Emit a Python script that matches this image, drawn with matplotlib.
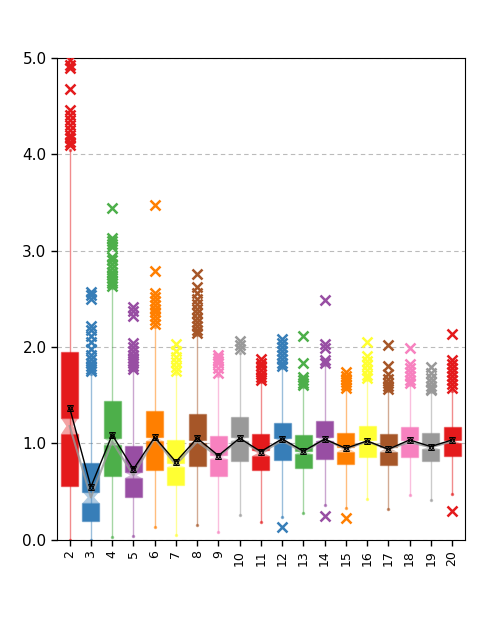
import numpy as np
import matplotlib
matplotlib.use("Agg")
import matplotlib.pyplot as plt
from matplotlib.colors import to_rgba

cats = [str(c) for c in range(2, 21)]
set1 = ["#e41a1c", "#377eb8", "#4daf4a", "#984ea3", "#ff7f00",
        "#ffff33", "#a65628", "#f781bf", "#999999"]

q1 = [0.56, 0.20, 0.66, 0.45, 0.73, 0.57, 0.77, 0.66, 0.82, 0.73,
      0.83, 0.75, 0.84, 0.785, 0.86, 0.78, 0.865, 0.82, 0.875]
q3 = [1.95, 0.80, 1.445, 0.97, 1.34, 1.04, 1.31, 1.08, 1.27, 1.10,
      1.21, 1.086, 1.235, 1.107, 1.186, 1.096, 1.175, 1.107, 1.175]
med = [1.18, 0.44, 1.02, 0.67, 1.05, 0.78, 1.02, 0.86, 1.046, 0.90,
       1.03, 0.908, 1.043, 0.942, 1.02, 0.942, 1.013, 0.962, 1.02]
notch = [0.08, 0.06, 0.035, 0.03, 0.02, 0.022, 0.02, 0.02, 0.02, 0.03,
         0.028, 0.018, 0.022, 0.026, 0.018, 0.026, 0.023, 0.022, 0.017]
whislo = [0.0, 0.0, 0.03, 0.04, 0.13, 0.05, 0.155, 0.08, 0.26, 0.19,
          0.24, 0.28, 0.363, 0.33, 0.42, 0.318, 0.467, 0.41, 0.474]
whishi = [4.04, 1.72, 2.61, 1.76, 2.21, 1.72, 2.13, 1.70, 1.94, 1.64,
          1.78, 1.59, 1.81, 1.56, 1.66, 1.54, 1.61, 1.53, 1.54]
means = [1.37, 0.55, 1.09, 0.733, 1.065, 0.81, 1.055, 0.875, 1.055, 0.916,
         1.048, 0.92, 1.045, 0.95, 1.027, 0.94, 1.037, 0.968, 1.037]
outliers = [
    [4.98, 4.93, 4.89, 4.68, 4.46, 4.41, 4.36, 4.30, 4.25, 4.20, 4.17, 4.13, 4.10],
    [2.57, 2.54, 2.50, 2.22, 2.18, 2.12, 2.05, 1.98, 1.92, 1.88, 1.84, 1.80, 1.77, 1.75],
    [3.44, 3.13, 3.10, 3.07, 3.04, 2.93, 2.90, 2.86, 2.82, 2.78, 2.75, 2.72, 2.69, 2.66, 2.63],
    [2.42, 2.37, 2.32, 2.04, 2.00, 1.96, 1.92, 1.89, 1.86, 1.83, 1.80, 1.77],
    [3.47, 2.79, 2.56, 2.52, 2.48, 2.44, 2.40, 2.36, 2.32, 2.28, 2.24],
    [2.03, 1.96, 1.90, 1.85, 1.79, 1.75],
    [2.76, 2.62, 2.56, 2.50, 2.45, 2.40, 2.35, 2.30, 2.26, 2.22, 2.18, 2.15],
    [1.92, 1.89, 1.86, 1.83, 1.78, 1.73],
    [2.06, 2.02, 1.98],
    [1.88, 1.84, 1.80, 1.76, 1.72, 1.69, 1.66],
    [2.08, 2.04, 2.00, 1.96, 1.92, 1.88, 1.84, 1.80, 0.13],
    [2.12, 1.83, 1.69, 1.66, 1.63, 1.61],
    [2.49, 2.03, 1.99, 1.87, 1.83, 0.25],
    [1.74, 1.70, 1.67, 1.64, 1.61, 1.58, 0.225],
    [2.05, 1.91, 1.86, 1.81, 1.76, 1.71, 1.68],
    [2.02, 1.80, 1.72, 1.67, 1.63, 1.60, 1.57],
    [1.99, 1.82, 1.78, 1.74, 1.70, 1.66, 1.63],
    [1.79, 1.73, 1.68, 1.64, 1.60, 1.57, 1.55],
    [2.14, 1.87, 1.82, 1.78, 1.74, 1.70, 1.66, 1.62, 1.58, 0.30],
]

fig = plt.figure(figsize=(4.95, 6.22), dpi=100)
ax = fig.add_axes([0.115, 0.132, 0.824, 0.775])

w = 0.8
x = np.arange(len(cats))
for i in x:
    c = set1[i % len(set1)]
    light = to_rgba(c, 0.5)
    # whisker
    ax.plot([i, i], [whislo[i], whishi[i]], color=light, lw=1, zorder=1)
    ax.plot([i, i], [whislo[i], whishi[i]], ls="none", marker="o", ms=1.5,
            color=light, zorder=1)
    # box split at the notch
    ax.bar(i, med[i] - notch[i] - q1[i], bottom=q1[i], width=w, color=c,
           edgecolor=light, lw=1, zorder=2)
    ax.bar(i, q3[i] - med[i] - notch[i], bottom=med[i] + notch[i], width=w,
           color=c, edgecolor=light, lw=1, zorder=2)
    ax.fill([i - w / 2, i + w / 2, i + w / 5, i + w / 2, i - w / 2, i - w / 5],
            [med[i] - notch[i], med[i] - notch[i], med[i],
             med[i] + notch[i], med[i] + notch[i], med[i]],
            color=to_rgba(c, 0.4), lw=0, zorder=2)
    ax.plot([i] * len(outliers[i]), outliers[i], ls="none", marker="x",
            ms=7, mew=1.8, color=c, zorder=3)

ax.plot(x, med, color="#999999", lw=1.5, alpha=0.8, zorder=4)
ax.plot(x, means, color="black", lw=1, zorder=5)
ax.plot(x, means, ls="none", marker="^", ms=5, mfc="none", mec="black",
        mew=0.7, zorder=6)
ax.plot(x, means, ls="none", marker="v", ms=5, mfc="none", mec="black",
        mew=0.7, zorder=6)

ax.set_xlim(-0.6, len(cats) - 0.4)
ax.set_ylim(0, 5)
ax.set_yticks([0, 1, 2, 3, 4, 5])
ax.set_yticklabels(["0.0", "1.0", "2.0", "3.0", "4.0", "5.0"], fontsize=11)
ax.set_xticks(x)
ax.set_xticklabels(cats, rotation=90, fontsize=9)
ax.yaxis.grid(True, ls=(0, (4, 3)), color="#bbbbbb", lw=0.8)
ax.set_axisbelow(True)
ax.tick_params(length=4, width=1)

fig.savefig("out.png", dpi=100)
